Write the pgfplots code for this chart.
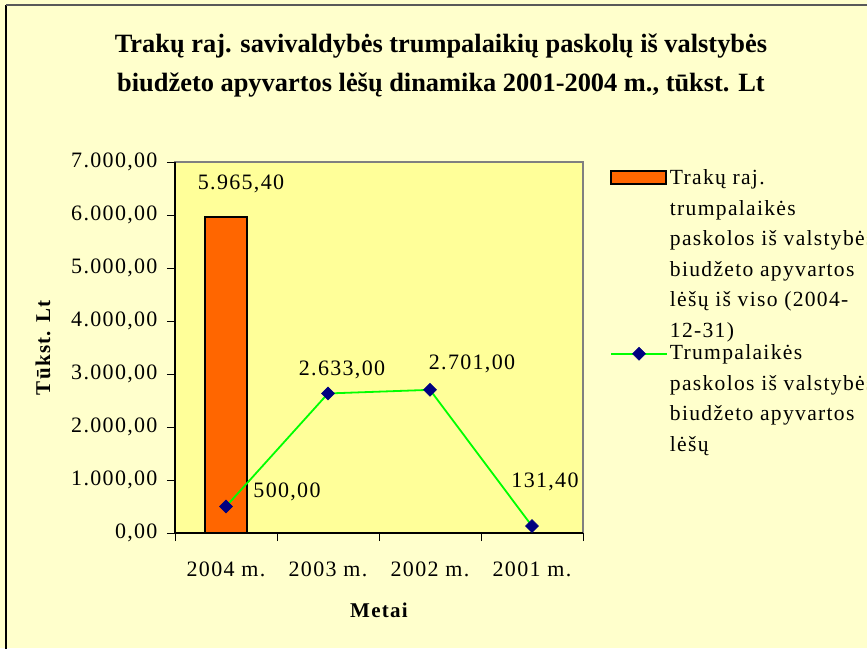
\documentclass[border=0pt]{standalone}
\usepackage{fontspec}
\setmainfont{Liberation Serif}
\newfontfamily\lsf[LetterSpace=6]{Liberation Serif}
\usepackage{pgfplots}
\pgfplotsset{compat=1.18}
\usetikzlibrary{calc,backgrounds}
\definecolor{bgyellow}{HTML}{FFFFCC}
\definecolor{plotyellow}{HTML}{FFFF99}
\definecolor{barorange}{HTML}{FF6600}
\definecolor{linegreen}{HTML}{00FF00}
\definecolor{marknavy}{HTML}{000080}
\newcommand{\tf}{\lsf\fontsize{22}{30.5}\selectfont}
\newcommand{\lf}{\lsf\fontsize{21.6}{30.5}\selectfont}
\pgfplotsset{
  barlegend/.style={legend image code/.code={\draw[##1] (-9pt,70.5pt) rectangle (46pt,83.5pt);}},
  linelegend/.style={legend image code/.code={\draw[##1, mark repeat=2, mark phase=2] plot coordinates {(-9pt,45pt) (19pt,45pt) (47pt,45pt)};}},
}
\begin{document}
\begin{tikzpicture}[x=1pt,y=1pt]
\begin{axis}[
  name=ax,
  scale only axis, width=408pt, height=371pt,
  xmin=-0.5, xmax=3.5, ymin=0, ymax=7000,
  axis background/.style={fill=plotyellow, draw=gray, line width=1.2pt},
  axis x line*=bottom, axis y line*=left,
  axis line style={-, black, line width=1.2pt},
  xtick={0,1,2,3},
  xticklabels={2004 m.,2003 m.,2002 m.,2001 m.},
  major x tick style={draw=none},
  minor xtick={-0.5,0.5,1.5,2.5,3.5},
  minor tick length=8pt,
  major tick length=8pt,
  tick align=outside,
  tick style={black, line width=0.8pt},
  ytick={0,1000,...,7000},
  /pgf/number format/assume math mode=true,
  yticklabel style={font=\tf, xshift=-6pt, /pgf/number format/.cd, fixed, fixed zerofill, precision=2, use comma, 1000 sep={.}},
  xticklabel style={font=\tf, yshift=-17pt},
  xlabel={Metai}, ylabel={Tūkst. Lt},
  xlabel style={font=\lsf\bfseries\fontsize{21}{25}\selectfont, at={(axis description cs:0.5,-0.2075)}, anchor=center},
  ylabel style={font=\lsf\bfseries\fontsize{21}{25}\selectfont, at={(axis description cs:-0.3235,0.5)}, anchor=center},
  legend style={at={(axis description cs:1.066,0.985)}, anchor=north west, draw=none, fill=none,
    font=\lf, cells={align=left}, inner sep=0pt, row sep=2pt},
  clip=false,
]
\coordinate (LL) at (rel axis cs:0,0);
\addplot[ybar, bar width=42pt, fill=barorange, draw=black, line width=1.5pt, barlegend]
  coordinates {(0,5965.4)};
\addlegendentry{Trakų raj.\\trumpalaikės\\paskolos iš valstybės\\biudžeto apyvartos\\lėšų iš viso (2004-\\12-31)}
\addplot[color=linegreen, line width=1.8pt, mark=square*, mark size=4.6pt,
  mark options={rotate=45, fill=marknavy, draw=marknavy, line width=0.5pt}, linelegend]
  coordinates {(0,500) (1,2633) (2,2701) (3,131.4)};
\addlegendentry{Trumpalaikės\\paskolos iš valstybės\\biudžeto apyvartos\\lėšų}
\node[font=\tf] at (axis cs:0,5965.4) [xshift=15pt, yshift=33pt] {5.965,40};
\node[font=\tf] at (axis cs:0,500) [xshift=61pt, yshift=15pt] {500,00};
\node[font=\tf] at (axis cs:1,2633) [xshift=14pt, yshift=24pt] {2.633,00};
\node[font=\tf] at (axis cs:2,2701) [xshift=42pt, yshift=26pt] {2.701,00};
\node[font=\tf] at (axis cs:3,131.4) [xshift=13pt, yshift=44pt] {131,40};
\end{axis}
\begin{scope}[on background layer]
\fill[bgyellow] ($(LL)+(-175,-115)$) rectangle ++(867,648);
\end{scope}
\draw[black, line width=1.5pt] ($(LL)+(-169,-130)$) -- ($(LL)+(-169,528)$);
\draw[gray!70!black, line width=1.5pt] ($(LL)+(-169,528)$) -- ($(LL)+(710,528)$);
\node[font=\bfseries\fontsize{26.4}{38.7}\selectfont, anchor=base] at ($(LL)+(266,480)$)
  {Trakų raj. savivaldybės trumpalaikių paskolų iš valstybės};
\node[font=\bfseries\fontsize{26.4}{38.7}\selectfont, anchor=base] at ($(LL)+(266,441.3)$)
  {biudžeto apyvartos lėšų dinamika 2001-2004 m., tūkst. Lt};
\pgfresetboundingbox
\useasboundingbox ($(LL)+(-175,-115)$) rectangle ++(867,648);
\end{tikzpicture}
\end{document}
